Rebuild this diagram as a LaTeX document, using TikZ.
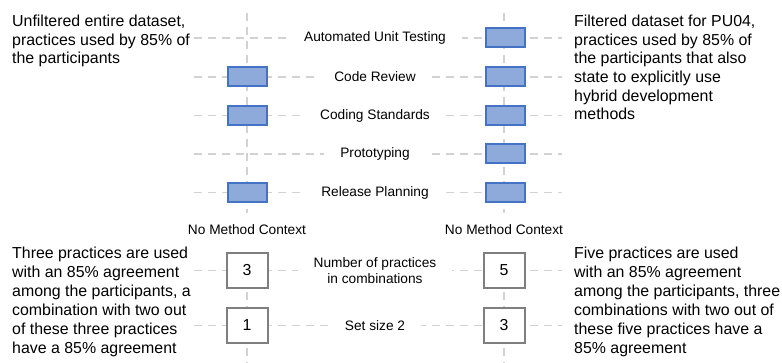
\documentclass[tikz,border=0pt]{standalone}
\usepackage{fontspec}
\setmainfont{Liberation Sans}

\definecolor{gridgray}{HTML}{D2D2D2}
\definecolor{pfill}{HTML}{8EAADB}
\definecolor{pline}{HTML}{4472C4}
\definecolor{boxgray}{HTML}{7F7F7F}

\tikzset{
  gridline/.style={draw=gridgray, line width=1.8pt, dash pattern=on 8pt off 6pt},
  practice/.style={draw=pline, fill=pfill, line width=2pt,
    minimum width=39pt, minimum height=19pt, inner sep=0pt},
  countbox/.style={draw=boxgray, fill=white, line width=2pt,
    minimum width=41pt, minimum height=35pt, inner sep=0pt,
    font=\fontsize{15.9}{18}\selectfont},
  rowlabel/.style={fill=white, inner xsep=16pt, inner ysep=1pt,
    font=\fontsize{13.7}{16}\selectfont, align=center},
  colhead/.style={inner sep=1pt, font=\fontsize{13.7}{16}\selectfont},
  note/.style={inner sep=0pt, align=left, font=\fontsize{15.9}{18.6}\selectfont},
  longnote/.style={note, font=\fontsize{15.9}{19}\selectfont},
}

\begin{document}
\begin{tikzpicture}[x=1pt,y=-1pt]
\useasboundingbox (0,0) rectangle (782,363);

% horizontal guide lines, one per row
\foreach \y/\n in {38/aut, 77/rev, 115.5/std, 154/pro, 192.5/rel, 270.5/num, 325.5/set} {
  \coordinate (\n-w) at (194,\y);
  \coordinate (\n-e) at (562,\y);
  \draw[gridline] (\n-w) -- (\n-e);
}

% vertical guide lines of the two columns
\foreach \x/\c in {247/nm, 504/pu} {
  \coordinate (\c-top) at (\x,13);
  \coordinate (\c-mid) at (\x,213);
  \coordinate (\c-low) at (\x,292);
  \coordinate (\c-bot) at (\x,363);
  \draw[gridline] (\c-top) -- (\c-mid);
  \draw[gridline] (\c-low) -- (\c-bot);
}

% row labels
\node[rowlabel] (l-aut) at (375,38)    {Automated Unit Testing};
\node[rowlabel] (l-rev) at (375,77)    {Code Review};
\node[rowlabel] (l-std) at (375,115.5) {Coding Standards};
\node[rowlabel] (l-pro) at (375,154)   {Prototyping};
\node[rowlabel] (l-rel) at (375,192.5) {Release Planning};
\node[rowlabel] (l-num) at (375,270.5) {Number of practices\\in combinations};
\node[rowlabel] (l-set) at (375,325.5) {Set size 2};

% column headings
\node[colhead] (h-nm) at (247,230) {No Method Context};
\node[colhead] (h-pu) at (504,230) {No Method Context};

% practices used in the unfiltered dataset
\node[practice] (nm-rev) at (247,77) {};
\node[practice] (nm-std) at (247,115.5) {};
\node[practice] (nm-rel) at (247,192.5) {};

% practices used in the filtered dataset
\node[practice] (pu-aut) at (505,38) {};
\node[practice] (pu-rev) at (505,77) {};
\node[practice] (pu-std) at (505,115.5) {};
\node[practice] (pu-pro) at (505,154) {};
\node[practice] (pu-rel) at (505,192.5) {};

% counts
\node[countbox] (nm-num) at (247,270.5) {3};
\node[countbox] (nm-set) at (247,325.5) {1};
\node[countbox] (pu-num) at (504,270.5) {5};
\node[countbox] (pu-set) at (504,325.5) {3};

% explanations (anchored at the baseline of their last line)
\node[note, anchor=base west] (n-nm) at (12,63.9)
  {Unfiltered entire dataset,\\practices used by 85\% of\\the participants};
\node[note, anchor=base west] (n-pu) at (574,119.7)
  {Filtered dataset for PU04,\\practices used by 85\% of\\the participants that also\\state to explicitly use\\hybrid development\\methods};
\node[longnote, anchor=base west] (c-nm) at (12,353)
  {Three practices are used\\with an 85\% agreement\\among the participants, a\\combination with two out\\of these three practices\\have a 85\% agreement};
\node[longnote, anchor=base west] (c-pu) at (574,353)
  {Five practices are used\\with an 85\% agreement\\among the participants, three\\combinations with two out of\\these five practices have a\\85\% agreement};
\end{tikzpicture}
\end{document}
